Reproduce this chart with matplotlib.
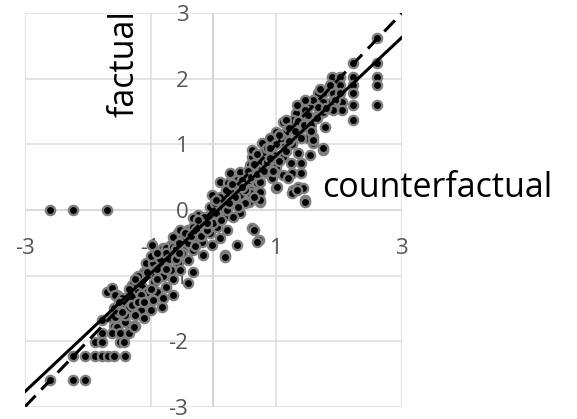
import matplotlib
matplotlib.use('Agg')
import matplotlib.pyplot as plt

plt.rcParams['font.family'] = ['Open Sans', 'DejaVu Sans']
plt.rcParams['lines.scale_dashes'] = False

# counterfactual (x) and factual (y) values
counterfactual = [
    -2.60, -2.23, -1.69,
    -2.60, -2.23, -2.04,
    -2.23, -2.04, -1.88, -1.77, -1.67, -1.59, -1.40,
    -1.88, -1.77, -1.48, -1.43,
    -1.69, -1.53, -1.32, -1.59, -1.32, -1.77, -1.61, -1.45, -1.59, -1.53, -1.32, -1.24,
    -1.77, -1.61, -1.48, -1.35,
    -1.61, -1.56, -0.97, -0.80, -0.68, -0.56, -0.41, -0.25, -0.33, -0.64, -1.08, -0.96,
    -1.11, -0.97, -0.81, -0.68, -0.57, -0.40, -0.32, -0.41, -0.53, -1.24, -1.13, -1.21,
    -1.05, -0.89, -0.76, -0.65, -0.80, -0.96, -1.11, -1.27, -1.29, -1.40, -1.16, -1.00,
    -0.81, -1.43, -1.56, -1.27, -1.40, -1.11,
    0.27, 0.43, 0.11, 0.59, 0.75, 0.62, 0.80, 0.96, 0.86, 0.70, 0.99, 0.75, 0.56, 0.30,
    -0.02, -0.05, 0.08, -0.24, -0.08, 0.22, 0.43, 0.62, 0.72, 0.38, 0.19, 0.11, -0.05,
    -0.21, -0.37, -0.53, -0.64, -0.45, -0.76, -0.64, -0.48, -0.32, -0.18, -0.02, -0.16,
    -0.33, -0.16, 0.06, 0.22, -0.32, 0.11, 0.27, 0.43, 0.43, 0.59, 0.24, 0.38, 0.75,
    1.75, 1.91, 1.66, 1.86, 1.54, 1.39, 1.31, 1.46, 1.66, 1.78, 1.27, 1.11, 1.15, 0.99,
    1.34, 1.51, 1.59, 1.75, 1.54, 1.35, 1.39, 1.23, 1.26, 1.39, 1.07, 0.91, 0.78, 0.62,
    0.80, 0.96, 1.11, 0.99, 0.86, 0.72, 0.59, 0.43, 0.38, 0.56, 0.75, 0.94, 1.02, 1.11,
    1.19, 1.27, 1.35, 1.43, 1.46, 1.26, 0.27, 0.43, 0.59, 0.75, 0.51, 0.32,
    2.61, 2.23, 2.61, 2.61, 2.61, 2.61, 2.23, 2.23, 2.23, 2.23, 2.23, 1.89, 2.02, 1.86,
    2.02, 2.02, 2.05, 2.05, 1.94, 1.89, 1.66, 1.59, 1.46, 1.34, 1.46, 1.15, 1.75, 1.91,
    1.75, 1.66, 1.58, 1.43,
    1.59, 1.75, 1.34, 1.46, 0.70, 0.64, 0.19,
    -1.00, -0.90, -0.85, -0.80, -0.75, -0.70, -0.60, -0.60, -0.55, -0.50, -0.45, -0.40,
    -0.35, -0.30, -0.28, -0.20, -0.15, -0.10, -0.05, 0.00, 0.02, 0.05, 0.10, 0.12, 0.15,
    0.20, 0.22, 0.30, 0.32, 0.35, 0.40, 0.45, 0.50, 0.55, 0.60, 0.65, 0.70, 0.70, 0.80,
    0.85, 0.90, 0.95, 1.00, 1.05, 1.10, 1.15, 1.20, 1.25, 1.30, 1.35, 1.40, 1.45, 1.50,
    1.55, -1.20, -1.15, -1.05, -1.30, -1.35, -1.45, -1.50, -1.25, -0.95, -0.90, -0.65,
    -1.50, -1.40, -1.30, -1.20, -1.45, -1.35, -1.25, -1.10, -1.00, -0.90, -0.75, -0.55,
    -0.25, -0.10, 0.05, 0.25, 0.45, 0.65, 0.90, 1.05, 1.20, 1.65, 1.80, 1.70, 1.55,
]
factual = [
    0.00, 0.00, 0.00,
    -2.59, -2.59, -2.59,
    -2.22, -2.22, -2.22, -2.22, -2.22, -2.22, -2.22,
    -2.02, -2.02, -2.02, -2.02,
    -1.25, -1.30, -1.27, -1.49, -1.45, -1.68, -1.65, -1.68, -1.77, -1.78, -1.77, -1.77,
    -1.88, -1.88, -1.88, -1.88,
    -1.19, -1.30, -0.53, -0.58, -0.53, -0.35, -0.30, -0.23, -0.43, -0.69, -0.81, -0.81,
    -0.95, -0.96, -0.87, -0.91, -0.81, -0.76, -0.95, -1.11, -0.91, -1.11, -1.17, -1.25,
    -1.25, -1.25, -1.17, -1.30, -1.34, -1.37, -1.40, -1.45, -1.33, -1.49, -1.52, -1.52,
    -1.48, -1.65, -1.63, -1.78, -1.71, -1.65,
    0.56, 0.53, 0.43, 0.66, 0.73, 0.81, 0.87, 0.73, 0.56, 0.41, 0.34, 0.12, 0.12, 0.26,
    0.23, 0.05, 0.00, -0.08, -0.11, -0.08, -0.05, -0.27, -0.46, -0.53, -0.69, -0.43, -0.35,
    -0.30, -0.34, -0.30, -0.41, -0.46, -0.58, -0.56, -0.58, -0.61, -0.49, -0.53, -0.69,
    -0.26, -0.20, -0.26, -0.30, -0.12, 0.11, 0.11, 0.15, 0.30, 0.30, 0.41, 0.41, 0.27,
    1.78, 1.78, 1.72, 1.63, 1.60, 1.60, 1.48, 1.45, 1.45, 1.27, 1.37, 1.34, 1.19, 1.19,
    1.17, 1.10, 1.02, 0.91, 0.84, 0.87, 0.72, 0.72, 0.56, 0.56, 1.04, 1.10, 1.02, 0.91,
    0.88, 0.84, 0.81, 0.66, 0.73, 0.61, 0.69, 0.58, 0.46, 0.46, 0.43, 0.49, 0.35, 0.53,
    0.49, 0.30, 0.35, 0.34, 0.15, 0.26, 0.30, 0.23, 0.26, 0.15, 0.11, 0.15,
    2.62, 2.24, 2.24, 2.03, 1.91, 1.60, 2.03, 1.91, 1.78, 1.60, 1.37, 2.03, 2.03, 1.91,
    1.91, 1.78, 1.65, 1.52, 1.68, 1.57, 1.78, 1.68, 1.68, 1.60, 1.52, 1.37, 1.65, 1.52,
    1.49, 1.57, 1.11, 1.27,
    1.07, 0.95, 0.30, 0.12, -0.49, -0.30, -0.72,
    -0.70, -0.90, -0.75, -1.00, -0.65, -0.75, -0.60, -0.75, -0.50, -0.65, -0.35, -0.50,
    -0.40, -0.55, -0.30, -0.40, -0.10, -0.30, -0.15, -0.20, 0.10, -0.05, 0.20, -0.15, 0.05,
    0.30, 0.00, 0.40, -0.10, 0.20, 0.05, 0.45, 0.30, 0.60, 0.50, 0.20, 0.55, 0.85, 0.60,
    0.95, 0.80, 0.60, 1.00, 0.75, 1.10, 0.90, 1.25, 1.00, 1.20, 1.35, 1.10, 1.30, 1.45,
    1.30, -1.00, -1.30, -0.95, -1.15, -1.50, -1.35, -1.55, -1.60, -1.10, -0.65, -1.05,
    -1.40, -1.60, -1.45, -1.40, -1.55, -1.20, -1.05, -1.40, -1.20, -1.05, -0.90, -0.65,
    -0.15, -0.20, 0.15, 0.10, 0.35, 0.70, 0.95, 1.15, 1.05, 1.40, 1.55, 1.85, 1.20,
]

# regression line and identity line end points
fit_x = [-3, 3]
fit_y = [-2.77, 2.63]
ident_x = [-3, 3]
ident_y = [-3, 3]

x_ticks = [-3, -1, 1, 3]
y_ticks = [-3, -2, -1, 0, 1, 2, 3]

fig = plt.figure(figsize=(5.77, 4.19), dpi=100)
ax = fig.add_axes([0.0433, 0.0294, 0.6529, 0.9389])

ax.scatter(counterfactual, factual, s=44, c='black', edgecolors='#7f7f7f',
           linewidths=1.7, zorder=3)
ax.plot(fit_x, fit_y, color='black', linewidth=2.2, zorder=4)
ax.plot(ident_x, ident_y, color='black', linewidth=2.2, dashes=(11, 6), zorder=4)

ax.set_xlim(-3, 3)
ax.set_ylim(-3, 3)
ax.set_xticks(x_ticks)
ax.set_yticks(y_ticks)
ax.set_xticklabels([str(v) for v in x_ticks])
ax.set_yticklabels([str(v) for v in y_ticks])

ax.grid(True, color='#dcdcdc', linewidth=1.1)
ax.axhline(0, color='#c8c8c8', linewidth=1.1, zorder=1)
ax.axvline(0, color='#c8c8c8', linewidth=1.1, zorder=1)

for s in ['top', 'right']:
    ax.spines[s].set_visible(False)
ax.spines['left'].set_position(('data', 0))
ax.spines['bottom'].set_position(('data', 0))
ax.spines['left'].set_color('none')
ax.spines['bottom'].set_color('none')

ax.tick_params(axis='both', length=0, labelsize=16, labelcolor='#555555')
ax.tick_params(axis='y', pad=18)
ax.tick_params(axis='x', pad=20)

ax.text(1.73, 0.2, 'counterfactual', fontsize=24.5, ha='left', va='baseline',
        color='black', clip_on=False)
ax.text(-1.27, 3.05, 'factual', fontsize=24.5, rotation=90, rotation_mode='anchor',
        ha='right', va='baseline', color='black', clip_on=False)

fig.savefig('out.png', dpi=100)
